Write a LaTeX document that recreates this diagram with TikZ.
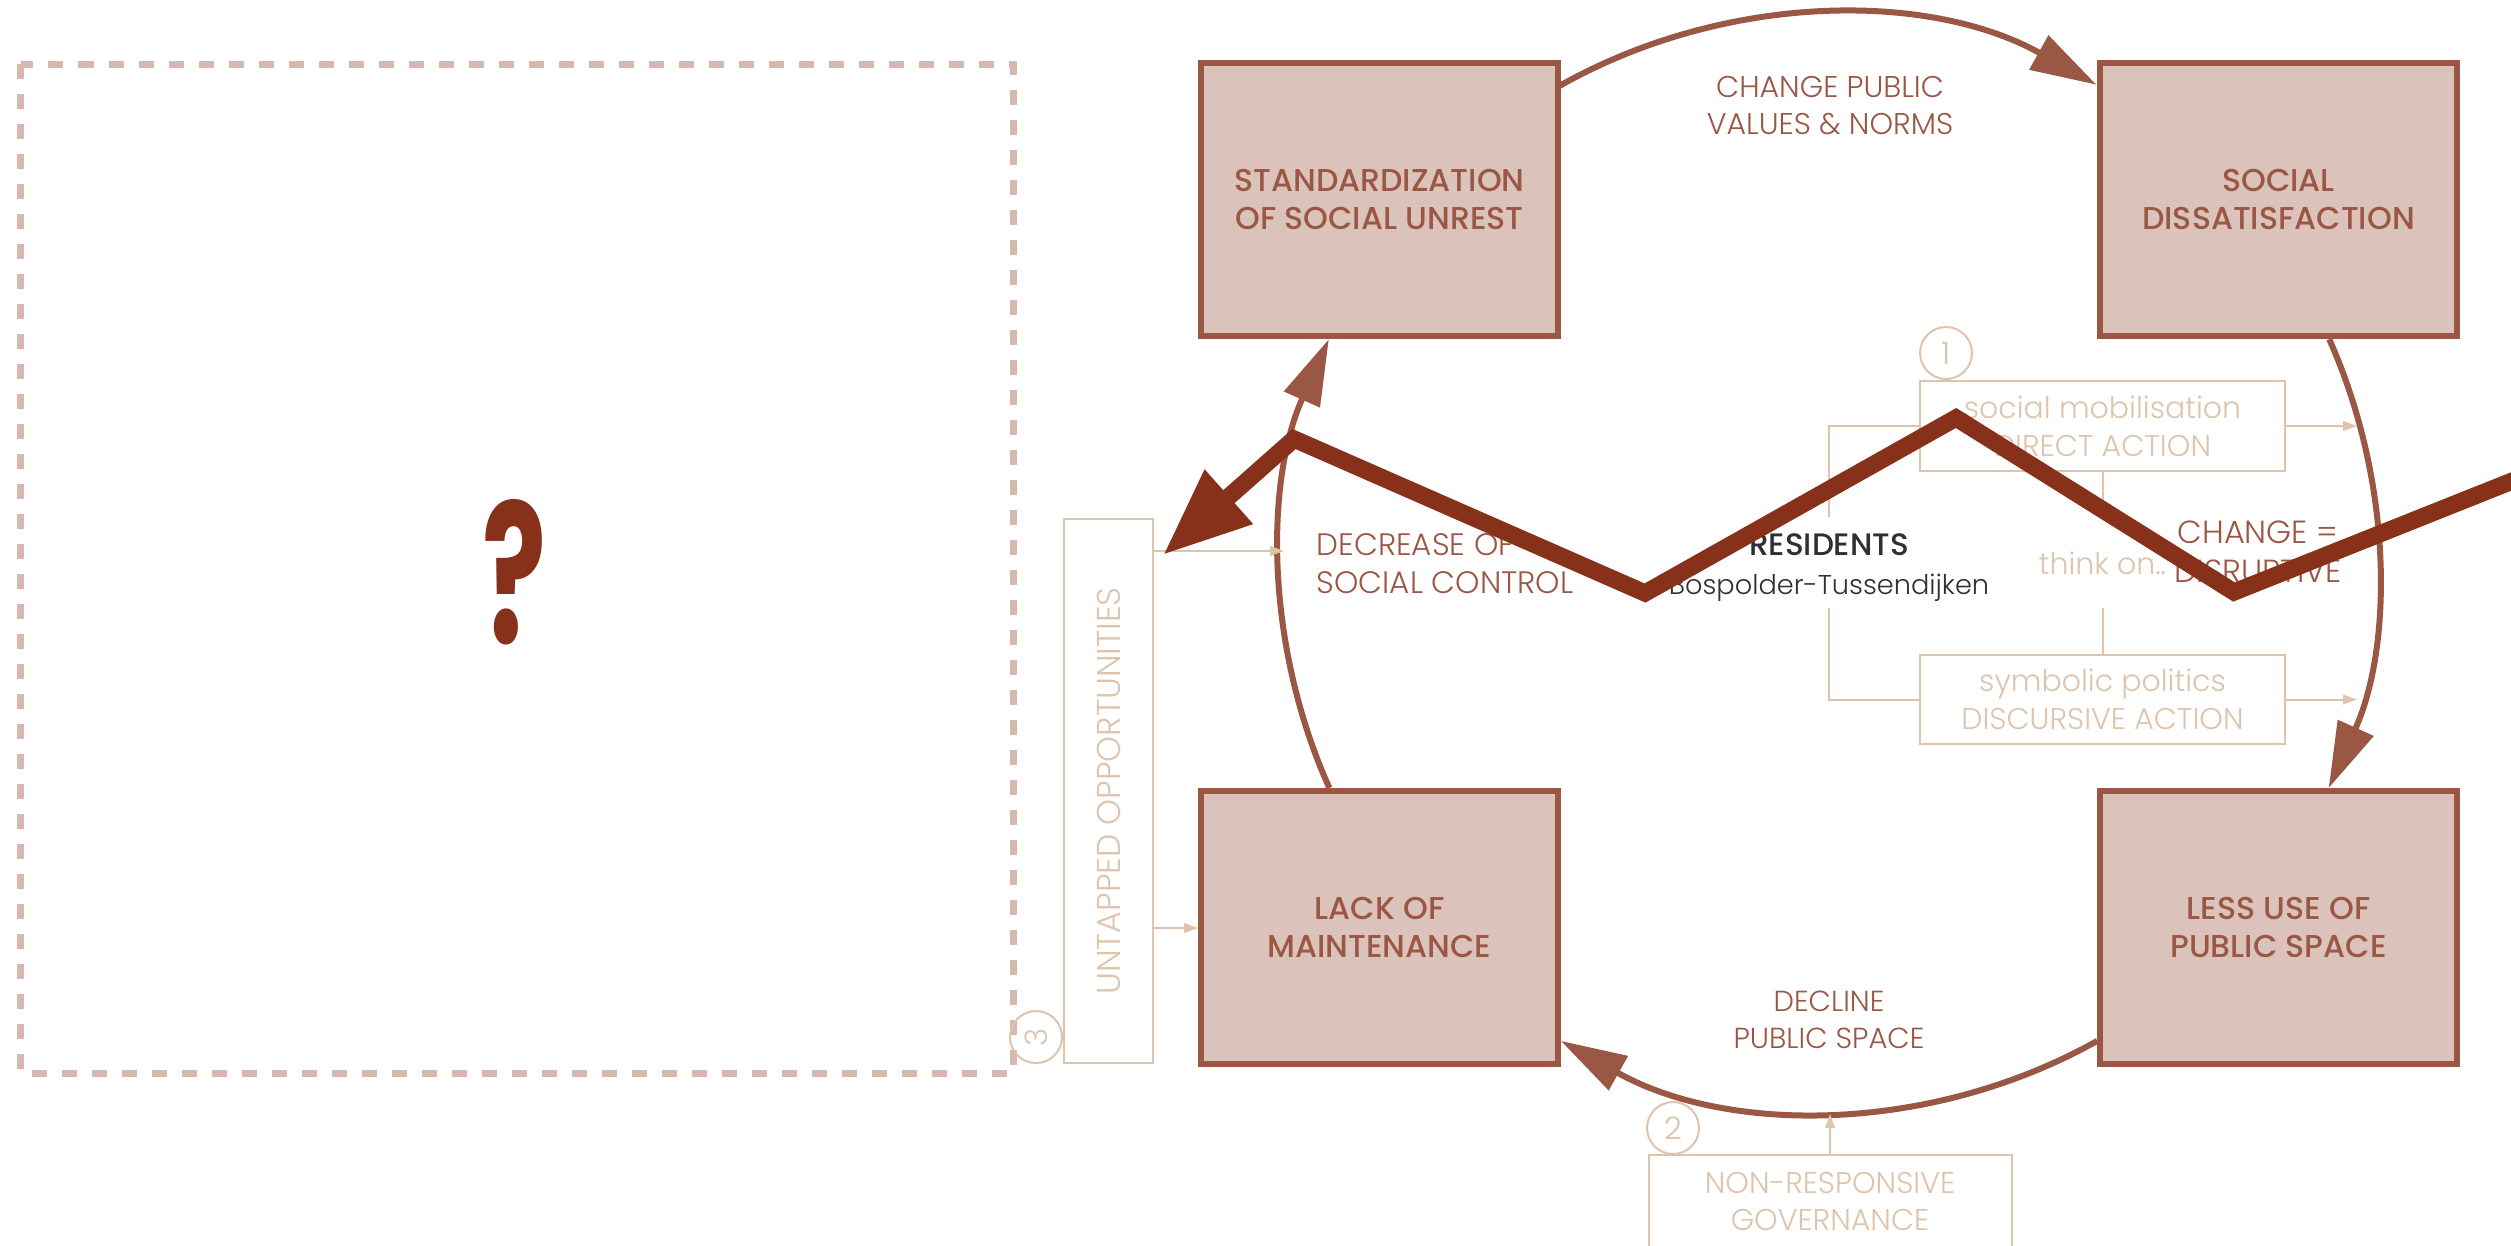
\documentclass[tikz,border=0pt]{standalone}
\usepackage{fontspec}
\setmainfont{Poppins}
\newfontfamily\lightf{Poppins Light}
\newfontfamily\medf{Poppins Medium}
\usetikzlibrary{arrows.meta,calc}
\definecolor{brn}{HTML}{9A5744}
\definecolor{boxfill}{HTML}{DBC3BB}
\definecolor{zigc}{HTML}{87301A}
\definecolor{tanc}{HTML}{DEC4AC}
\definecolor{dashc}{HTML}{D6B8AE}
\definecolor{darkc}{HTML}{2B3136}
\tikzset{
 mainbox/.style={draw=brn, fill=boxfill, line width=1.5pt, minimum width=89.25pt, minimum height=68.25pt, inner sep=0pt, align=center, text=brn, font=\medf\fontsize{7.9pt}{9.5pt}\selectfont},
 arcline/.style={draw=brn, line width=1.5pt},
 bigtip/.style={-{Triangle[length=16.5pt,width=9.5pt]}},
 tanline/.style={draw=tanc, line width=0.5pt},
 tanarrow/.style={tanline, -{Triangle[length=3.5pt,width=2.4pt]}},
 tanbox/.style={draw=tanc, line width=0.5pt, inner sep=0pt, align=center, text=tanc, font=\lightf\fontsize{7.5pt}{9.5pt}\selectfont},
 tantext/.style={text=tanc, inner sep=0pt, font=\lightf\fontsize{7.5pt}{9.5pt}\selectfont},
 numcirc/.style={draw=tanc, circle, line width=0.5pt, minimum size=13pt, inner sep=0pt, text=tanc, font=\lightf\fontsize{7.75pt}{9pt}\selectfont},
 brnlabel/.style={text=brn, align=center, inner sep=0pt},
 zigline/.style={draw=zigc, line width=4.3pt, miter limit=10},
 dashline/.style={draw=dashc, line width=1.75pt, dash pattern=on 3.75pt off 3.75pt},
}
\begin{document}
\begin{tikzpicture}[x=0.25pt,y=-0.25pt]
\useasboundingbox (0,0) rectangle (2511,1245);
\fill[white] (0,0) rectangle (2511,1245);

% dashed frame with question mark
\draw[dashline] (20.5,64) rectangle (1013,1073);
\node[text=zigc, inner sep=0pt] (q) at (514.5,572) {\resizebox{16pt}{36pt}{\bfseries ?}};

% circle centre
\coordinate (cc) at (1829,563);

% cycle arcs
\draw[arcline, bigtip] ($(cc)+(-119.5:548)$) arc[start angle=-119.5, end angle=-60.8, radius=548];
\draw[arcline, bigtip] ($(cc)+(-24.1:548)$) arc[start angle=-24.1, end angle=24.24, radius=548];
\draw[arcline, bigtip] ($(cc)+(60.7:548)$) arc[start angle=60.7, end angle=119.3, radius=548];
\draw[arcline, bigtip] ($(cc)+(155.76:548)$) arc[start angle=155.76, end angle=204.1, radius=548];

% main boxes
\node[mainbox] (su) at (1379.5,199.5) {STANDARDIZATION\\OF SOCIAL UNREST};
\node[mainbox] (sd) at (2278.5,199.5) {SOCIAL\\DISSATISFACTION};
\node[mainbox] (lm) at (1379.5,927.5) {LACK OF\\MAINTENANCE};
\node[mainbox] (lu) at (2278.5,927.5) {LESS USE OF\\PUBLIC SPACE};

% arc labels
\node[brnlabel, font=\lightf\fontsize{7.5pt}{9.25pt}\selectfont] (cpv) at (1830,106) {CHANGE PUBLIC\\VALUES \& NORMS};
\node[brnlabel, align=left, anchor=west, font=\lightf\fontsize{7.75pt}{9.5pt}\selectfont] (dsc) at (1316,564) {DECREASE OF\\SOCIAL CONTROL};
\node[brnlabel, font=\lightf\fontsize{7.25pt}{9.25pt}\selectfont] (dpl) at (1829,1020) {DECLINE\\PUBLIC SPACE};
\node[brnlabel, font=\lightf\fontsize{8pt}{9.75pt}\selectfont] (cdis) at (2258,552) {CHANGE =\\DISRUPTIVE};

% residents
\node[text=darkc, inner sep=0pt, font=\medf\fontsize{7.75pt}{9pt}\selectfont] (res) at (1829,545) {RESIDENTS};
\node[text=darkc, inner sep=0pt, font=\lightf\fontsize{6.8pt}{9pt}\selectfont] (bos) at (1829,588) {Bospolder-Tussendijken};

% actions (1)
\node[tanbox, minimum width=91.25pt, minimum height=22.5pt] (da) at (2102.5,426) {social mobilisation\\DIRECT ACTION};
\node[tanbox, minimum width=91.25pt, minimum height=22.25pt] (dsa) at (2102.5,699.5) {symbolic politics\\DISCURSIVE ACTION};
\node[numcirc] (n1) at (1946,353) {1};
\coordinate (bk1) at (1829,517);
\coordinate (bk2) at (1829,608);
\draw[tanline] (da.west) -| (bk1);
\draw[tanline] (bk2) |- (dsa.west);
\coordinate (ct1) at (2102.5,518);
\coordinate (ct2) at (2102.5,608);
\draw[tanline] (da.south) -- (ct1);
\draw[tanline] (ct2) -- (dsa.north);
\node[tantext] (think) at (2102.5,563) {think on..};
\coordinate (ae1) at (2357,426);
\coordinate (ae2) at (2357,699.5);
\draw[tanarrow] (da.east) -- (ae1);
\draw[tanarrow] (dsa.east) -- (ae2);

% governance (2)
\node[tanbox, minimum width=90.75pt, minimum height=23.25pt, font=\lightf\fontsize{7.5pt}{9.25pt}\selectfont] (ng) at (1830,1201.5) {NON-RESPONSIVE\\GOVERNANCE};
\node[numcirc] (n2) at (1673,1128) {2};
\coordinate (ge) at (1830,1114);
\draw[tanarrow] (ng.north) -- (ge);

% untapped opportunities (3)
\node[tanbox, rotate=90, minimum width=136pt, minimum height=22.25pt, font=\lightf\fontsize{8.25pt}{9.5pt}\selectfont] (uo) at (1108.5,791) {UNTAPPED OPPORTUNITIES};
\node[numcirc, rotate=90] (n3) at (1036,1037) {3};
\coordinate (ua1) at ($(uo.south)+(0,-240)$);
\coordinate (ua1e) at (1284,551);
\coordinate (ua2) at ($(uo.south)+(0,137)$);
\draw[tanarrow] (ua1) -- (ua1e);
\draw[tanarrow] (ua2) -- (ua2 -| lm.west);

% zigzag arrow
\coordinate (z0) at (2600,446);
\coordinate (z1) at (2234,592);
\coordinate (z2) at (1956,418);
\coordinate (z3) at (1645,593);
\coordinate (z4) at (1294,439);
\coordinate (z5) at (1163,555);
\draw[zigline, -{Triangle[length=22pt,width=17pt]}] (z0) -- (z1) -- (z2) -- (z3) -- (z4) -- (z5);
\end{tikzpicture}
\end{document}
